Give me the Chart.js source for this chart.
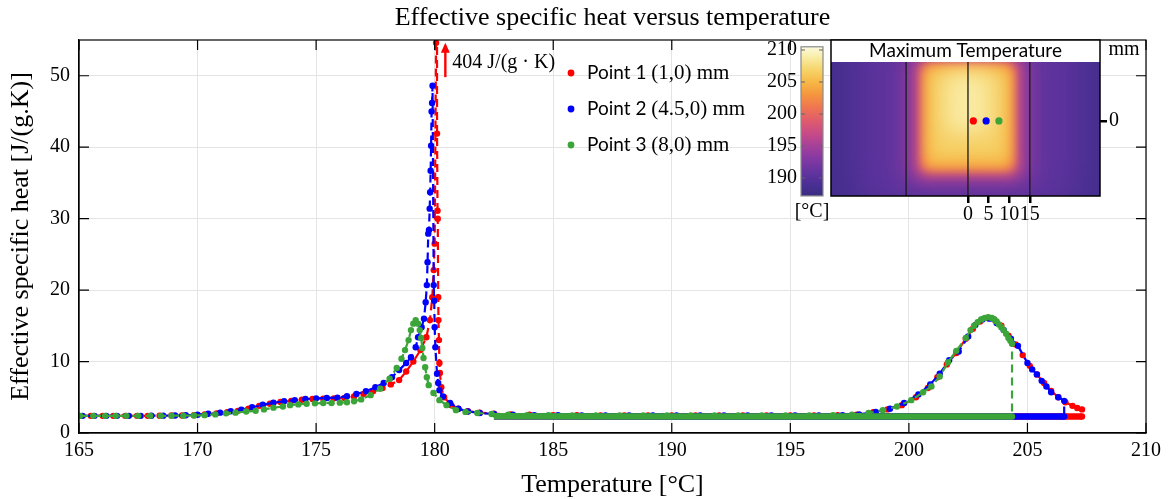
<!DOCTYPE html>
<html>
<head>
<meta charset="utf-8">
<script src="https://cdn.jsdelivr.net/npm/chart.js@4.4.1/dist/chart.umd.min.js"></script>
<style>
body { margin: 0; background: #fff; }
#wrap { position: relative; width: 1172px; height: 499px; }
#inset { position: absolute; left: 760px; top: 35px; }
</style>
</head>
<body>
<div id="wrap">
  <canvas id="main" width="1172" height="499"></canvas>
  <canvas id="inset" width="400" height="190"></canvas>
</div>
<script>
// ---- data: [temperature degC, effective cp J/(g.K)] ----
var p1 = [[165.0,2.4],[165.5,2.4],[166.0,2.4],[166.45,2.4],[166.95,2.4],[167.45,2.4],[167.9,2.4],[168.4,2.42],[168.9,2.45],[169.35,2.45],[169.85,2.5],[170.3,2.6],[170.8,2.75],[171.25,2.9],[171.7,3.1],[172.15,3.4],[172.6,3.8],[173.05,4.1],[173.5,4.35],[173.95,4.5],[174.4,4.65],[174.85,4.75],[175.3,4.8],[175.75,4.85],[176.2,4.9],[176.6,5.1],[177.0,5.45],[177.4,5.85],[177.8,6.3],[178.15,6.8],[178.5,7.4],[178.8,8.6],[179.1,10.0],[179.4,11.6],[179.65,13.4],[179.8,15.8],[179.9,19.0],[179.96,22.8],[180.0,26.5],[180.06,54.6],[180.08,404],[180.1,41.9],[180.12,31.1],[180.13,30.0],[180.15,19.0],[180.16,15.8],[180.18,13.0],[180.2,9.8],[180.22,8.4],[180.28,6.4],[180.4,5.0],[180.7,3.9],[181.0,3.4],[181.4,3.05],[181.9,2.85],[182.5,2.7],[183.2,2.6],[184.0,2.55],[185.0,2.5],[186.0,2.5],[187.0,2.45],[188.0,2.45],[189.0,2.45],[190.0,2.45],[191.0,2.45],[192.0,2.45],[193.0,2.45],[194.0,2.45],[195.0,2.45],[196.0,2.45],[197.0,2.5],[197.8,2.55],[198.5,2.9],[199.1,3.3],[199.7,3.9],[200.3,5.0],[200.8,6.3],[201.2,7.8],[201.6,9.6],[202.0,11.2],[202.4,13.2],[202.7,14.6],[203.0,15.6],[203.3,16.1],[203.6,15.9],[203.9,15.0],[204.2,13.6],[204.5,12.4],[204.8,10.9],[205.1,9.4],[205.4,8.2],[205.7,7.0],[206.0,5.9],[206.3,5.0],[206.6,4.3],[206.9,3.8],[207.1,3.5],[207.3,3.3],[207.3,2.3]];
var p2 = [[165.15,2.4],[165.65,2.4],[166.15,2.4],[166.6,2.4],[167.1,2.4],[167.6,2.4],[168.05,2.42],[168.55,2.43],[169.05,2.45],[169.5,2.48],[170.0,2.55],[170.45,2.7],[170.95,2.85],[171.4,3.05],[171.85,3.25],[172.3,3.6],[172.75,3.95],[173.2,4.25],[173.65,4.45],[174.1,4.6],[174.55,4.75],[175.0,4.85],[175.45,4.9],[175.9,4.95],[176.3,5.15],[176.7,5.45],[177.1,5.85],[177.5,6.4],[177.85,7.0],[178.2,7.8],[178.5,8.8],[178.8,9.8],[179.0,10.6],[179.2,12.0],[179.3,13.4],[179.45,14.8],[179.55,16.0],[179.62,18.3],[179.67,20.7],[179.7,23.9],[179.73,27.9],[179.76,28.4],[179.79,31.4],[179.81,33.7],[179.83,36.7],[179.85,40.2],[179.87,45.0],[179.89,46.2],[179.91,48.6],[179.96,20.7],[179.98,18.5],[180.0,14.8],[180.03,12.0],[180.1,8.3],[180.15,7.0],[180.2,6.0],[180.35,5.1],[180.65,4.2],[181.0,3.4],[181.4,3.0],[181.9,2.8],[182.5,2.65],[183.3,2.55],[184.2,2.5],[185.2,2.5],[186.2,2.45],[187.2,2.45],[188.2,2.45],[189.2,2.45],[190.2,2.45],[191.2,2.45],[192.2,2.45],[193.2,2.45],[194.2,2.45],[195.2,2.45],[196.2,2.45],[197.2,2.5],[197.9,2.6],[198.6,2.95],[199.2,3.4],[199.8,4.2],[200.4,5.4],[200.9,6.8],[201.3,8.3],[201.7,10.2],[202.1,11.4],[202.5,13.5],[202.8,15.1],[203.1,15.9],[203.4,16.0],[203.7,15.4],[204.0,14.4],[204.3,13.2],[204.6,12.2],[205.0,9.8],[205.2,8.9],[205.4,8.2],[205.6,7.3],[205.8,6.5],[206.0,5.7],[206.3,5.0],[206.55,4.5],[206.55,2.3]];
var p3 = [[165.05,2.4],[165.6,2.4],[166.1,2.4],[166.55,2.4],[167.0,2.4],[167.5,2.4],[168.0,2.4],[168.45,2.4],[168.9,2.42],[169.4,2.43],[169.85,2.45],[170.3,2.5],[170.75,2.6],[171.2,2.75],[171.6,2.85],[172.05,3.0],[172.45,3.1],[172.8,3.3],[173.2,3.55],[173.6,3.7],[173.9,3.9],[174.25,4.0],[174.6,4.1],[174.95,4.15],[175.3,4.2],[175.65,4.2],[176.0,4.25],[176.3,4.3],[176.6,4.45],[176.9,4.7],[177.3,5.3],[177.7,6.2],[178.1,7.6],[178.4,9.1],[178.6,10.4],[178.75,11.6],[178.9,13.0],[179.0,14.4],[179.1,15.3],[179.2,15.8],[179.3,15.3],[179.37,14.4],[179.43,13.3],[179.48,11.9],[179.53,10.5],[179.6,9.2],[179.67,7.8],[179.75,6.7],[179.95,5.6],[180.2,4.6],[180.5,3.9],[180.9,3.2],[181.3,2.95],[181.8,2.8],[182.4,2.65],[183.1,2.55],[183.9,2.5],[184.8,2.5],[185.8,2.45],[186.8,2.45],[187.8,2.45],[188.8,2.45],[189.8,2.45],[190.8,2.45],[191.8,2.45],[192.8,2.45],[193.8,2.45],[194.8,2.45],[195.8,2.45],[196.8,2.5],[197.6,2.55],[198.3,2.8],[198.9,3.2],[199.5,3.7],[200.1,4.6],[200.6,5.7],[200.95,6.5],[201.3,7.9],[201.65,9.9],[202.0,11.5],[202.4,13.3],[202.6,14.4],[202.75,15.0],[202.9,15.5],[203.05,15.9],[203.2,16.1],[203.35,16.2],[203.5,16.1],[203.6,15.9],[203.7,15.6],[203.8,15.2],[203.9,14.8],[204.0,14.4],[204.1,13.9],[204.2,13.3],[204.28,12.9],[204.35,12.5],[204.35,2.3]];

// cooling back along the baseline after the max temperature
var p1Cool = [[207.3,2.3],[200,2.3],[190,2.3],[182.5,2.35]];
var p2Cool = [[206.55,2.3],[200,2.3],[190,2.3],[182.5,2.35]];
var p3Cool = [[204.35,2.3],[200,2.3],[190,2.3],[182.5,2.35]];

var seriesNames = ['Point 1', 'Point 2', 'Point 3'];
var seriesCoords = ['(1,0) mm', '(4.5,0) mm', '(8,0) mm'];
var peakNote = '404 J/(g \u00b7 K)';
var peakNoteT = 180.45;

var xTicks = [165, 170, 175, 180, 185, 190, 195, 200, 205, 210];
var yTicks = [0, 10, 20, 30, 40, 50];

// inset: probe positions (mm) and max temperature colour scale
var probeX = [1.3, 4.4, 7.5];
var probeY = [0, 0, 0];
var insetXTicks = [0, 5, 10, 15];
var insetYTicks = [0];
var sectionLines = [-15, 0, 15];
var cbarTicks = [190, 195, 200, 205, 210];
var cbarRange = [187.2, 210.5];
var cmapT = [187, 189, 191, 193, 195, 197, 199, 201, 203, 205, 207, 209, 210.5];
var cmapCol = ['#3a2c82','#4a2f95','#64349f','#8439a3','#a6409a','#c84b86','#e05c6c','#ef7551','#f5953e','#f6b846','#f6d56c','#f9eeaa','#fcf9e0'];
// hot zone, drawn as blurred nested regions (mm)
var heatBase = 188.3;
var heatLayers = [
  {t: 190.6, x0: -27, x1: 27, y0: -22, y1: 26, r: 30, blur: 18},
  {t: 193.6, x0: -15.5, x1: 15.5, y0: -15.5, y1: 17.5, r: 14, blur: 11},
  {t: 197.5, x0: -12.8, x1: 12.8, y0: -13.6, y1: 15.2, r: 9, blur: 7},
  {t: 201.8, x0: -11.4, x1: 11.4, y0: -12.3, y1: 14.1, r: 8, blur: 5},
  {t: 204.6, x0: -10.4, x1: 10.4, y0: -11.1, y1: 13.1, r: 7, blur: 5},
  {t: 206.6, x0: -9.0, x1: 9.0, y0: -9.0, y1: 12.0, r: 6, blur: 7},
  {t: 208.7, x0: -5.5, x1: 5.5, y0: -3, y1: 11.5, r: 5, blur: 10}
];

var red = '#ff0000', blue = '#0000ff', green = '#3ca53a';
var colors = [red, blue, green];
var serif = '"Liberation Serif", "Times New Roman", serif';
var sans = 'Lato, "Open Sans", sans-serif';

function toXY(pairs) {
  return pairs.map(function(p) { return {x: p[0], y: p[1]}; });
}
function heatSet(label, pairs, col, ord) {
  return {label: label, data: toXY(pairs), borderColor: col, backgroundColor: col,
    borderWidth: 2.2, borderDash: [8, 5], pointRadius: 3.2, pointBorderWidth: 0,
    pointBackgroundColor: col, tension: 0, order: ord};
}
function coolSet(pairs, col, ord) {
  return {label: '', data: toXY(pairs), borderColor: col, borderWidth: 6.5,
    pointRadius: 0, tension: 0, order: ord};
}

var mainDeco = {
  id: 'mainDeco',
  afterDraw: function(chart) {
    var ctx = chart.ctx, a = chart.chartArea, x = chart.scales.x, y = chart.scales.y;
    ctx.save();
    // title
    ctx.fillStyle = '#000';
    ctx.font = '26px ' + serif;
    ctx.textAlign = 'center';
    ctx.textBaseline = 'middle';
    ctx.fillText('Effective specific heat versus temperature', (a.left + a.right) / 2, 18);
    // box + inner ticks
    ctx.strokeStyle = '#000';
    ctx.lineWidth = 1.2;
    ctx.strokeRect(a.left, a.top, a.right - a.left, a.bottom - a.top);
    ctx.beginPath();
    xTicks.forEach(function(v) {
      var px = x.getPixelForValue(v);
      ctx.moveTo(px, a.bottom); ctx.lineTo(px, a.bottom - 10);
      ctx.moveTo(px, a.top); ctx.lineTo(px, a.top + 10);
    });
    yTicks.forEach(function(v) {
      var py = y.getPixelForValue(v);
      ctx.moveTo(a.left, py); ctx.lineTo(a.left + 10, py);
      ctx.moveTo(a.right, py); ctx.lineTo(a.right - 10, py);
    });
    ctx.stroke();
    // peak annotation arrow
    var ax = x.getPixelForValue(peakNoteT);
    var yb = y.getPixelForValue(49.8), yt = y.getPixelForValue(54.6);
    ctx.strokeStyle = red; ctx.fillStyle = red; ctx.lineWidth = 2.4;
    ctx.beginPath(); ctx.moveTo(ax, yb); ctx.lineTo(ax, yt + 9); ctx.stroke();
    ctx.beginPath(); ctx.moveTo(ax, yt); ctx.lineTo(ax - 4.5, yt + 10); ctx.lineTo(ax + 4.5, yt + 10); ctx.closePath(); ctx.fill();
    ctx.fillStyle = '#000';
    ctx.font = '20px ' + serif;
    ctx.textAlign = 'left';
    ctx.fillText(peakNote, ax + 7, y.getPixelForValue(51.8));
    // legend
    var lx = a.left + 492, ly = a.top + 33;
    for (var i = 0; i < 3; i++) {
      var yy = ly + i * 36;
      ctx.fillStyle = colors[i];
      ctx.beginPath(); ctx.arc(lx, yy, 3.4, 0, Math.PI * 2); ctx.fill();
      ctx.fillStyle = '#000';
      ctx.font = '19px ' + sans;
      ctx.fillText(seriesNames[i], lx + 16, yy);
      var w = ctx.measureText(seriesNames[i] + ' ').width;
      ctx.font = '21px ' + serif;
      ctx.fillText(seriesCoords[i], lx + 16 + w, yy);
    }
    ctx.restore();
  }
};

new Chart(document.getElementById('main'), {
  type: 'line',
  data: {
    datasets: [
      heatSet(seriesNames[0], p1, red, 6), coolSet(p1Cool, red, 5),
      heatSet(seriesNames[1], p2, blue, 4), coolSet(p2Cool, blue, 3),
      heatSet(seriesNames[2], p3, green, 2), coolSet(p3Cool, green, 1)
    ]
  },
  options: {
    responsive: false, animation: false, devicePixelRatio: 1,
    layout: {padding: {top: 40, right: 26, left: 0, bottom: 0}},
    plugins: {legend: {display: false}, tooltip: {enabled: false}, title: {display: false}},
    scales: {
      x: {
        type: 'linear', min: 165, max: 210,
        afterBuildTicks: function(s) { s.ticks = xTicks.map(function(v) { return {value: v}; }); },
        ticks: {color: '#000', font: {family: serif, size: 20}, padding: 6, maxRotation: 0, autoSkip: false},
        grid: {color: '#e4e4e4', drawTicks: false},
        border: {color: '#000', width: 1.2},
        title: {display: true, text: 'Temperature [\u00b0C]', color: '#000', font: {family: serif, size: 26}, padding: {top: 0, bottom: -2}},
        afterFit: function(s) { s.height = 66; }
      },
      y: {
        type: 'linear', min: 0, max: 55,
        afterBuildTicks: function(s) { s.ticks = yTicks.map(function(v) { return {value: v}; }); },
        ticks: {color: '#000', font: {family: serif, size: 20}, padding: 9},
        grid: {color: '#e4e4e4', drawTicks: false},
        border: {color: '#000', width: 1.2},
        title: {display: true, text: 'Effective specific heat [J/(g.K)]', color: '#000', font: {family: serif, size: 26}, padding: {top: 6, bottom: 0}},
        afterFit: function(s) { s.width = 79; }
      }
    }
  },
  plugins: [mainDeco]
});

// ---- inset: maximum temperature map ----
function hexRgb(h) {
  return [parseInt(h.substr(1, 2), 16), parseInt(h.substr(3, 2), 16), parseInt(h.substr(5, 2), 16)];
}
function cmap(t) {
  if (t <= cmapT[0]) return cmapCol[0];
  for (var i = 1; i < cmapT.length; i++) {
    if (t <= cmapT[i]) {
      var f = (t - cmapT[i - 1]) / (cmapT[i] - cmapT[i - 1]);
      var c0 = hexRgb(cmapCol[i - 1]), c1 = hexRgb(cmapCol[i]);
      return 'rgb(' + [0, 1, 2].map(function(k) { return Math.round(c0[k] + (c1[k] - c0[k]) * f); }).join(',') + ')';
    }
  }
  return cmapCol[cmapCol.length - 1];
}
function noPad(s) { s.paddingTop = 0; s.paddingBottom = 0; s.paddingLeft = 0; s.paddingRight = 0; }

var heatMap = {
  id: 'heatMap',
  beforeDatasetsDraw: function(chart) {
    var ctx = chart.ctx, a = chart.chartArea, x = chart.scales.x, y = chart.scales.y, c = chart.scales.c;
    ctx.save();
    ctx.beginPath();
    ctx.rect(a.left, a.top, a.right - a.left, a.bottom - a.top);
    ctx.clip();
    ctx.fillStyle = cmap(heatBase);
    ctx.fillRect(a.left, a.top, a.right - a.left, a.bottom - a.top);
    heatLayers.forEach(function(L) {
      var x0 = x.getPixelForValue(L.x0), x1 = x.getPixelForValue(L.x1);
      var y0 = y.getPixelForValue(L.y1), y1 = y.getPixelForValue(L.y0);
      ctx.filter = 'blur(' + L.blur + 'px)';
      ctx.fillStyle = cmap(L.t);
      ctx.beginPath();
      ctx.roundRect(x0, y0, x1 - x0, y1 - y0, L.r);
      ctx.fill();
    });
    ctx.filter = 'none';
    // section boundaries
    ctx.strokeStyle = '#1a1a1a';
    ctx.lineWidth = 1.3;
    ctx.beginPath();
    sectionLines.forEach(function(v) {
      var px = x.getPixelForValue(v);
      ctx.moveTo(px, a.top); ctx.lineTo(px, a.bottom);
    });
    ctx.stroke();
    // title band
    ctx.fillStyle = '#fff';
    ctx.fillRect(a.left, a.top, a.right - a.left, 22);
    ctx.fillStyle = '#000';
    ctx.font = '19px ' + sans;
    ctx.textAlign = 'center';
    ctx.textBaseline = 'middle';
    ctx.fillText('Maximum Temperature', (a.left + a.right) / 2, a.top + 11);
    ctx.restore();

    ctx.save();
    ctx.strokeStyle = '#000';
    ctx.lineWidth = 1.5;
    ctx.strokeRect(a.left, a.top, a.right - a.left, a.bottom - a.top);
    // colour bar
    var bx0 = a.left - 30, bx1 = a.left - 8;
    var by0 = c.getPixelForValue(cbarRange[1]), by1 = c.getPixelForValue(cbarRange[0]);
    var g = ctx.createLinearGradient(0, by1, 0, by0);
    cmapT.forEach(function(t, i) {
      var f = (t - cbarRange[0]) / (cbarRange[1] - cbarRange[0]);
      g.addColorStop(Math.min(Math.max(f, 0), 1), cmapCol[i]);
    });
    ctx.fillStyle = g;
    ctx.fillRect(bx0, by0, bx1 - bx0, by1 - by0);
    ctx.strokeStyle = '#8a8a8a';
    ctx.lineWidth = 1.2;
    ctx.strokeRect(bx0, by0, bx1 - bx0, by1 - by0);
    ctx.strokeStyle = '#666';
    ctx.lineWidth = 1;
    ctx.beginPath();
    cbarTicks.forEach(function(v) {
      var py = c.getPixelForValue(v);
      ctx.moveTo(bx0, py); ctx.lineTo(bx0 + 4, py);
      ctx.moveTo(bx1, py); ctx.lineTo(bx1 - 4, py);
    });
    ctx.stroke();
    ctx.fillStyle = '#000';
    ctx.font = '20px ' + serif;
    ctx.textAlign = 'center';
    ctx.textBaseline = 'middle';
    ctx.fillText('[\u00b0C]', (bx0 + bx1) / 2, by1 + 16);
    ctx.fillText('mm', a.right + 24, a.top + 10);
    ctx.restore();
  }
};

new Chart(document.getElementById('inset'), {
  type: 'scatter',
  data: {
    datasets: probeX.map(function(px, i) {
      return {data: [{x: px, y: probeY[i]}], backgroundColor: colors[i], pointRadius: 3.6, pointBorderWidth: 0};
    })
  },
  options: {
    responsive: false, animation: false, devicePixelRatio: 1,
    layout: {padding: {top: 5, left: 0, right: 0, bottom: 0}},
    plugins: {legend: {display: false}, tooltip: {enabled: false}},
    scales: {
      x: {
        type: 'linear', position: 'bottom', min: -33.2, max: 32.0,
        afterBuildTicks: function(s) { s.ticks = insetXTicks.map(function(v) { return {value: v}; }); },
        ticks: {color: '#000', font: {family: serif, size: 20}, padding: 0, maxRotation: 0, autoSkip: false},
        grid: {drawOnChartArea: false, drawTicks: true, tickLength: 7, color: '#000', lineWidth: 2.5},
        border: {display: false},
        afterFit: function(s) { s.height = 29; noPad(s); }
      },
      y: {
        type: 'linear', position: 'right', min: -18.2, max: 19.6,
        afterBuildTicks: function(s) { s.ticks = insetYTicks.map(function(v) { return {value: v}; }); },
        ticks: {color: '#000', font: {family: serif, size: 20}, padding: 2},
        grid: {drawOnChartArea: false, drawTicks: true, tickLength: 7, color: '#000', lineWidth: 2.5},
        border: {display: false},
        afterFit: function(s) { s.width = 60; noPad(s); }
      },
      c: {
        type: 'linear', axis: 'y', position: 'left', min: 187.19, max: 211.56,
        afterBuildTicks: function(s) { s.ticks = cbarTicks.map(function(v) { return {value: v}; }); },
        ticks: {color: '#000', font: {family: serif, size: 20}, padding: 34},
        grid: {display: false, drawTicks: false},
        border: {display: false},
        afterFit: function(s) { s.width = 71; noPad(s); }
      }
    }
  },
  plugins: [heatMap]
});
</script>
</body>
</html>
